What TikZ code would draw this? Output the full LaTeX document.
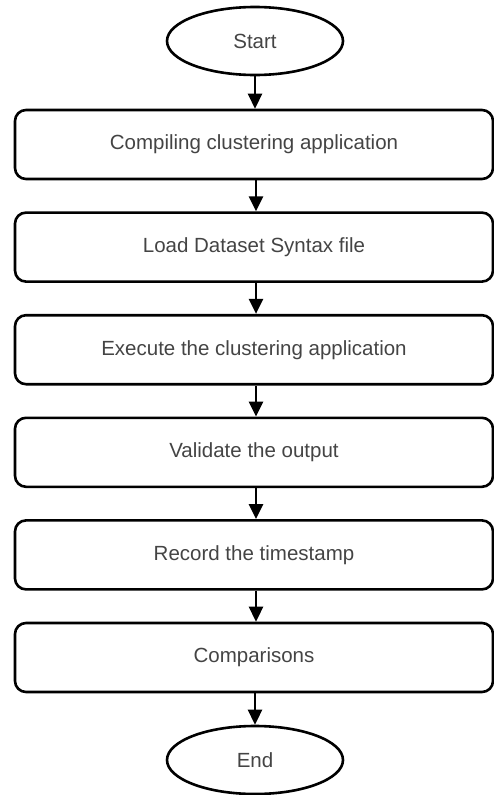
\documentclass[tikz,border=0pt]{standalone}
\usepackage{fontspec}
\setmainfont{Liberation Sans}
\usetikzlibrary{shapes.geometric,arrows.meta}
\definecolor{txt}{HTML}{444444}
\begin{document}
\begin{tikzpicture}[x=1pt,y=-1pt,
  stepbox/.style={draw=black,line width=2.6pt,rounded corners=11pt,minimum width=478pt,minimum height=69pt,inner sep=0pt,font=\fontsize{20.5}{24}\selectfont,text=txt},
  term/.style={draw=black,line width=2.6pt,ellipse,minimum width=176pt,minimum height=68pt,inner sep=0pt,font=\fontsize{20.5}{24}\selectfont,text=txt},
  conn/.style={line width=2.6pt,-{Triangle[length=15pt,width=14pt]}}]
\useasboundingbox (0,0) rectangle (494,795);
\node[term] (start) at (255,41) {Start};
\node[stepbox] (b1) at (254,144.5) {Compiling clustering application};
\node[stepbox] (b2) at (254,247.1) {Load Dataset Syntax file};
\node[stepbox] (b3) at (254,349.7) {Execute the clustering application};
\node[stepbox] (b4) at (254,452.3) {Validate the output};
\node[stepbox] (b5) at (254,554.9) {Record the timestamp};
\node[stepbox] (b6) at (254,657.5) {Comparisons};
\node[term] (end) at (255,760) {End};
\draw[conn] (start.south) -- (b1.north -| start.south);
\foreach \a/\b in {b1/b2,b2/b3,b3/b4,b4/b5,b5/b6}
  \draw[conn] ([xshift=2pt]\a.south) -- ([xshift=2pt]\b.north);
\draw[conn] (end.north |- b6.south) -- (end.north);
\end{tikzpicture}
\end{document}
